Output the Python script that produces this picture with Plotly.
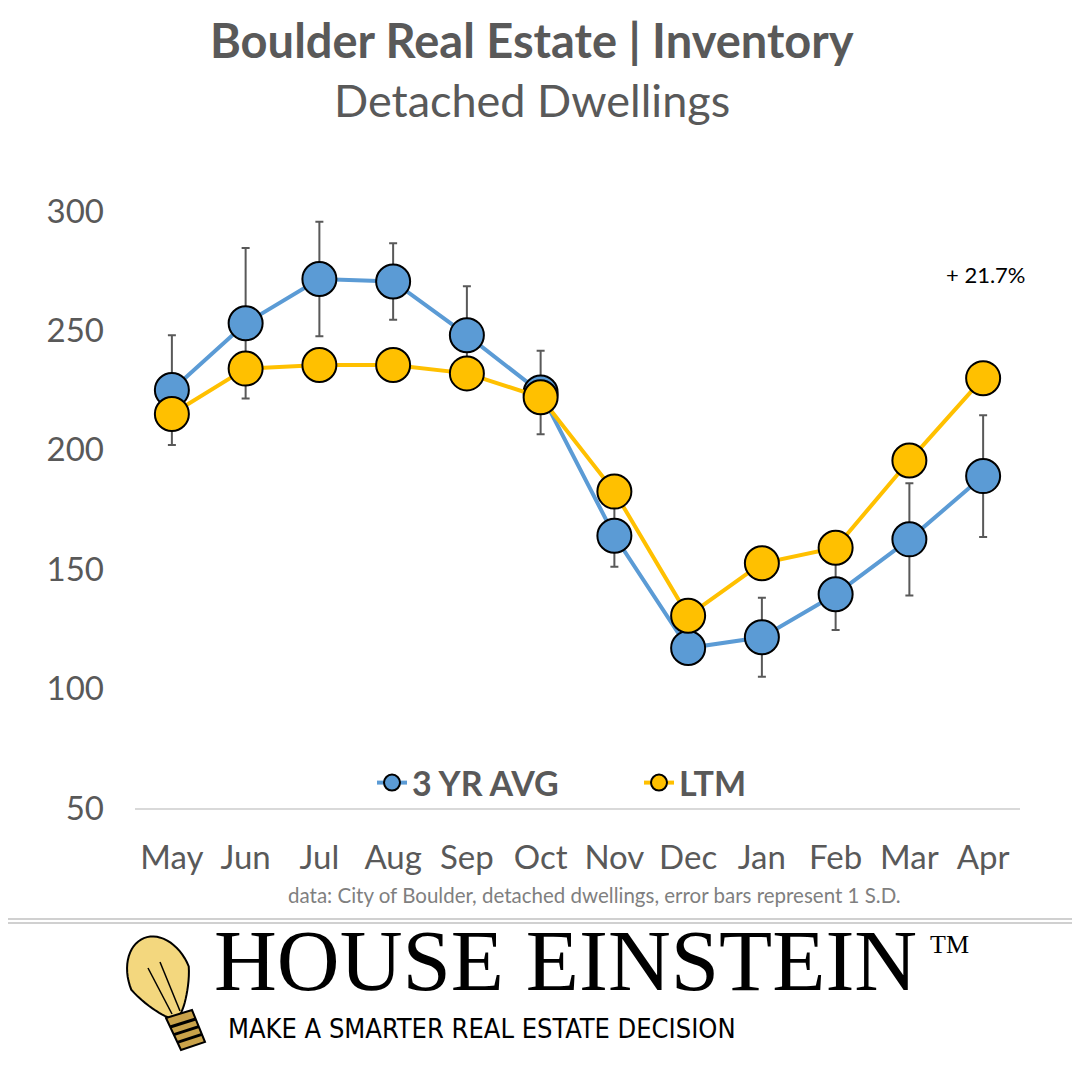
import math
import plotly.graph_objects as go

# --- data ---
months = ["May", "Jun", "Jul", "Aug", "Sep", "Oct", "Nov", "Dec", "Jan", "Feb", "Mar", "Apr"]
avg_3yr = [225, 253, 271.5, 270.5, 248, 224, 164, 117, 121.5, 139.5, 162.5, 189]
avg_3yr_sd = [23, 31.5, 24, 16, 20.5, 17.5, 13, 5, 16.5, 15, 23.5, 25.5]
ltm = [215, 234, 235.5, 235.5, 232, 222, 182.5, 130.5, 152.5, 159, 195.5, 230]
y_ticks = [50, 100, 150, 200, 250, 300]

BLUE = "#5B9BD5"
GOLD = "#FFC000"
GRAY = "#595959"
FONT = "Lato"

# plot area in page pixels; the page body adds an 8px margin
L, R, T, B = 135, 1020, 211, 808
OFF = 8


def px(x):
    return (x - L) / (R - L)


def py(y):
    return (B - y) / (B - T)


fig = go.Figure()

fig.add_trace(go.Scatter(
    x=months, y=avg_3yr, name="3 YR AVG", mode="lines+markers",
    line=dict(color=BLUE, width=4),
    marker=dict(size=34, color=BLUE, line=dict(color="black", width=2)),
    error_y=dict(type="data", array=avg_3yr_sd, visible=True,
                 color=GRAY, thickness=2, width=4),
))
fig.add_trace(go.Scatter(
    x=months, y=ltm, name="LTM", mode="lines+markers",
    line=dict(color=GOLD, width=4),
    marker=dict(size=34, color=GOLD, line=dict(color="black", width=2)),
))

annotations = [
    dict(text="<b>Boulder Real Estate | Inventory</b>", x=px(532), y=py(40),
         font=dict(size=47, color=GRAY)),
    dict(text="Detached Dwellings", x=px(532), y=py(100),
         font=dict(size=45, color=GRAY)),
    dict(text="+ 21.7%", x=px(986), y=py(275), font=dict(size=22, color="black")),
    dict(text="data: City of Boulder, detached dwellings, error bars represent 1 S.D.",
         x=px(594), y=py(895), font=dict(size=20.5, color="#7F7F7F")),
    dict(text="HOUSE EINSTEIN", x=px(212), y=py(961), xanchor="left",
         font=dict(size=87, color="black", family="Liberation Serif")),
    dict(text="TM", x=px(928), y=py(944), xanchor="left",
         font=dict(size=26, color="black", family="Liberation Serif")),
    dict(text="MAKE A SMARTER REAL ESTATE DECISION", x=px(226), y=py(1028),
         xanchor="left",
         font=dict(size=27, color="black",
                   family="DejaVu Sans Condensed, Liberation Sans Narrow, Roboto Condensed")),
]
for a in annotations:
    a.update(xref="paper", yref="paper", showarrow=False)
    a.setdefault("xanchor", "center")
    a.setdefault("yanchor", "middle")

# separator double line
shapes = []
for yy in (919, 923):
    shapes.append(dict(type="line", xref="paper", yref="paper",
                       x0=px(0), x1=px(1090), y0=py(yy), y1=py(yy),
                       line=dict(color="#D0D0D0", width=2)))


# light bulb logo (rough drawing)
def path_from(points):
    return "M " + " L ".join(f"{px(x):.5f},{py(y):.5f}" for x, y in points) + " Z"


ang = math.radians(-22)
cx, cy, rx, ry = 160, 978, 31, 43
bulb = []
for k in range(60):
    t = 2 * math.pi * k / 60
    ex, ey = rx * math.cos(t), ry * math.sin(t)
    if ey > 0:
        ex *= 1 - 0.45 * (ey / ry)
    bulb.append((cx + ex * math.cos(ang) - ey * math.sin(ang),
                 cy + ex * math.sin(ang) + ey * math.cos(ang)))
shapes.append(dict(type="path", xref="paper", yref="paper", path=path_from(bulb),
                   fillcolor="#F3D77E", line=dict(color="black", width=2)))
base = [(166, 1018), (192, 1010), (205, 1042), (181, 1050)]
shapes.append(dict(type="path", xref="paper", yref="paper", path=path_from(base),
                   fillcolor="#C9A24A", line=dict(color="black", width=2)))
for f in (0.28, 0.52, 0.76):
    x0 = 166 + (181 - 166) * f
    y0 = 1018 + (1050 - 1018) * f
    x1 = 192 + (205 - 192) * f
    y1 = 1010 + (1042 - 1010) * f
    shapes.append(dict(type="line", xref="paper", yref="paper",
                       x0=px(x0), y0=py(y0), x1=px(x1), y1=py(y1),
                       line=dict(color="black", width=3)))
# filament wires
for (xa, ya, xb, yb) in [(172, 1014, 148, 968), (180, 1011, 160, 962)]:
    shapes.append(dict(type="line", xref="paper", yref="paper",
                       x0=px(xa), y0=py(ya), x1=px(xb), y1=py(yb),
                       line=dict(color="black", width=1.5)))

fig.update_layout(
    width=1080, height=1080,
    margin=dict(l=L - OFF, r=1080 - (R - OFF), t=T - OFF, b=1080 - (B - OFF)),
    plot_bgcolor="white", paper_bgcolor="white",
    font=dict(family=FONT, color=GRAY),
    xaxis=dict(range=[-0.5, len(months) - 0.5], showgrid=False, showline=True,
               linecolor="#D9D9D9", linewidth=1.5,
               ticks="", tickfont=dict(size=33, color=GRAY), ticklabelstandoff=20,
               fixedrange=True),
    yaxis=dict(range=[50, 300], tickvals=y_ticks, showgrid=False, zeroline=False,
               showline=False, ticks="", tickfont=dict(size=33, color=GRAY),
               ticklabelstandoff=30, fixedrange=True),
    legend=dict(orientation="h", x=px(372), xanchor="left", y=py(783), yanchor="middle",
                font=dict(size=34, color=GRAY, weight="bold"),
                bgcolor="rgba(0,0,0,0)", entrywidth=222, entrywidthmode="pixels"),
    annotations=annotations,
    shapes=shapes,
)

fig.write_html("out.html")
